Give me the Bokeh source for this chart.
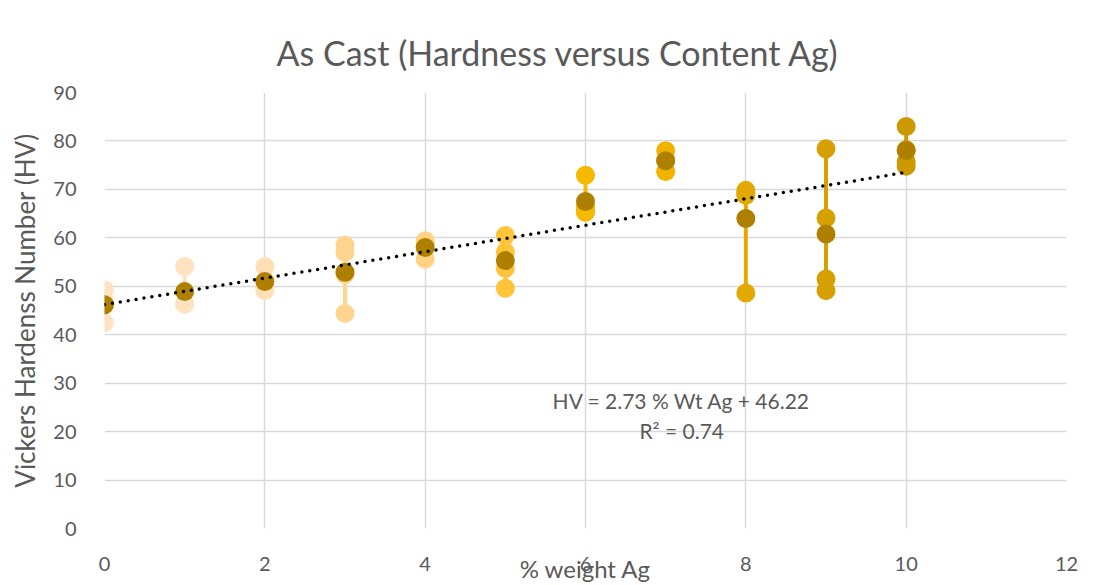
from bokeh.plotting import figure
from bokeh.models import Label, Title, FixedTicker
from bokeh.embed import file_html
from bokeh.resources import INLINE

# ---- data ----
wt_ag = [0, 1, 2, 3, 4, 5, 6, 7, 8, 9, 10]
hv_readings = [
    [49.3, 46.9, 42.5],
    [54.1, 46.4, 46.3],
    [54.1, 49.8, 49.1],
    [58.5, 57.0, 52.4, 44.4],
    [59.4, 58.8, 55.6],
    [60.5, 57.1, 53.7, 49.6],
    [72.9, 66.3, 65.5, 65.3],
    [78.0, 76.0, 73.7],
    [69.8, 69.2, 68.8, 48.6],
    [78.4, 64.1, 51.5, 49.1],
    [83.0, 78.2, 75.7, 74.8],
]
hv_mean = [46.2, 48.9, 51.0, 52.9, 58.0, 55.3, 67.5, 75.9, 64.0, 60.8, 78.0]
trend_slope = 2.73
trend_intercept = 46.22
trend_x = [0, 10]
x_ticks = [0, 2, 4, 6, 8, 10, 12]
y_ticks = [0, 10, 20, 30, 40, 50, 60, 70, 80, 90]

# ---- style ----
series_colors = ["#FFE2C2", "#FFE2C0", "#FFDFB5", "#FFD48F", "#FFD284", "#FFC43A",
                 "#F5B900", "#F0B400", "#E2AA00", "#D6A000", "#CC9900"]
mean_color = "#AF8000"
grey = "#595959"
font = "Lato"

p = figure(width=1092, height=585, x_range=(0, 12), y_range=(0, 90),
           output_backend="svg", toolbar_location=None,
           min_border_left=104, min_border_right=26, min_border_top=92, min_border_bottom=53)
p.title = None
p.add_layout(Title(text="As Cast (Hardness versus Content Ag)", align="left",
                   text_font=font, text_font_size="34px", text_font_style="normal",
                   text_color=grey, standoff=40, offset=172), "above")

p.outline_line_color = None
p.background_fill_color = "white"
p.border_fill_color = "white"

for ax in (p.xaxis[0], p.yaxis[0]):
    ax.axis_line_color = None
    ax.major_tick_line_color = None
    ax.minor_tick_line_color = None
    ax.major_label_text_font = font
    ax.major_label_text_font_size = "20px"
    ax.major_label_text_color = grey
    ax.axis_label_text_font = font
    ax.axis_label_text_font_style = "normal"
    ax.axis_label_text_color = grey
    ax.axis_label_text_font_size = "24px"

p.xaxis.ticker = FixedTicker(ticks=x_ticks)
p.yaxis.ticker = FixedTicker(ticks=y_ticks)
p.xaxis.major_label_standoff = 22
p.yaxis.major_label_standoff = 22
p.xaxis.axis_label = "% weight Ag"
p.xaxis.axis_label_standoff = -20
p.yaxis.axis_label = "Vickers Hardenss Number (HV)"
p.yaxis.axis_label_text_font_size = "26px"
p.yaxis.axis_label_standoff = 9

p.xgrid.ticker = FixedTicker(ticks=x_ticks)
p.ygrid.ticker = FixedTicker(ticks=y_ticks)
p.xgrid.grid_line_color = "#D9D9D9"
p.ygrid.grid_line_color = "#D9D9D9"
p.xgrid.grid_line_width = 1.5
p.ygrid.grid_line_width = 1.5

for x, vals, col in zip(wt_ag, hv_readings, series_colors):
    xs = [x] * len(vals)
    p.line(xs, vals, line_color=col, line_width=4)
    p.scatter(xs, vals, size=19, fill_color=col, line_color=None)

p.scatter(wt_ag, hv_mean, size=19, fill_color=mean_color, line_color=None)

trend_y = [trend_slope * x + trend_intercept for x in trend_x]
p.line(trend_x, trend_y, line_color="black", line_width=3.5, line_dash="0 8", line_cap="round")

p.add_layout(Label(x=7.2, y=26.5, text="HV = 2.73 % Wt Ag + 46.22", text_align="center",
                   text_baseline="middle", text_font=font, text_font_size="21px", text_color=grey))
p.add_layout(Label(x=7.2, y=20.3, text="R² = 0.74", text_align="center",
                   text_baseline="middle", text_font=font, text_font_size="21px", text_color=grey))

open("out.html", "w").write(file_html(p, INLINE))
